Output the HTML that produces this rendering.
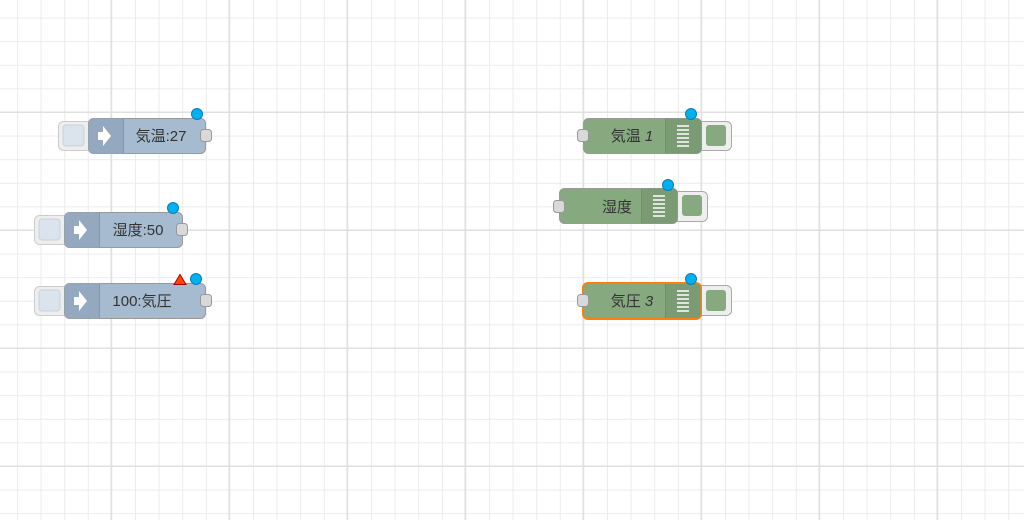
<!DOCTYPE html>
<html><head><meta charset="utf-8"><style>
body{margin:0;width:1024px;height:520px;overflow:hidden;background:#fff;font-family:"Liberation Sans","Noto Sans CJK JP",sans-serif}
svg{position:absolute;left:0;top:0}
</style></head><body>
<svg width="1024" height="520" xmlns="http://www.w3.org/2000/svg">
<defs>
<pattern id="mi" x="17" y="17.6" width="23.6" height="23.6" patternUnits="userSpaceOnUse">
<path d="M0 0.5H23.6M0.5 0V23.6" stroke="#ebebeb" stroke-width="1" fill="none"/></pattern>
<pattern id="ma" x="110.5" y="111.5" width="118" height="118" patternUnits="userSpaceOnUse">
<path d="M0 0.75H118M0.75 0V118" stroke="#e0e0e0" stroke-width="1.5" fill="none"/></pattern>
<g id="arrow"><path d="M-7 -4h5v-6l8 10-8 10v-6h-5z" fill="#fff"/></g>
<g id="lines" stroke="#fff" stroke-width="1.6"><path d="M-6 -10h12M-6 -6h12M-6 -2h12M-6 2h12M-6 6h12M-6 10h12"/></g>
</defs>
<rect width="1024" height="520" fill="url(#mi)"/>
<rect width="1024" height="520" fill="url(#ma)"/>
<g font-size="15" fill="#333" text-anchor="middle">
<rect x="58.5" y="121.5" width="38" height="29" rx="5" fill="#eee" stroke="#ccc"/>
<rect x="63" y="125" width="21" height="21" rx="3" fill="#dbe3ed" stroke="#c8d2df"/>
<rect x="88.5" y="118.5" width="117" height="35" rx="5" fill="#a6bbcf" stroke="#999"/>
<path d="M93.5 118.5h30v35h-30a5 5 0 0 1-5-5v-25a5 5 0 0 1 5-5z" fill="#94a9c0"/>
<line x1="123.5" y1="119" x2="123.5" y2="153" stroke="#8497ad"/>
<use href="#arrow" x="105" y="136"/>
<text x="161" y="141">気温:27</text>
<rect x="200.5" y="129.5" width="11" height="12" rx="3" fill="#d9d9d9" stroke="#999"/>
<circle cx="197" cy="114" r="5.5" fill="#00b0f0" stroke="#0a7fb5"/>
<rect x="34.5" y="215.5" width="38" height="29" rx="5" fill="#eee" stroke="#ccc"/>
<rect x="39" y="219" width="21" height="21" rx="3" fill="#dbe3ed" stroke="#c8d2df"/>
<rect x="64.5" y="212.5" width="118" height="35" rx="5" fill="#a6bbcf" stroke="#999"/>
<path d="M69.5 212.5h30v35h-30a5 5 0 0 1-5-5v-25a5 5 0 0 1 5-5z" fill="#94a9c0"/>
<line x1="99.5" y1="213" x2="99.5" y2="247" stroke="#8497ad"/>
<use href="#arrow" x="81" y="230"/>
<text x="138" y="235">湿度:50</text>
<rect x="176.5" y="223.5" width="11" height="12" rx="3" fill="#d9d9d9" stroke="#999"/>
<circle cx="173" cy="208" r="5.5" fill="#00b0f0" stroke="#0a7fb5"/>
<rect x="34.5" y="286.5" width="38" height="29" rx="5" fill="#eee" stroke="#ccc"/>
<rect x="39" y="290" width="21" height="21" rx="3" fill="#dbe3ed" stroke="#c8d2df"/>
<rect x="64.5" y="283.5" width="141" height="35" rx="5" fill="#a6bbcf" stroke="#999"/>
<path d="M69.5 283.5h30v35h-30a5 5 0 0 1-5-5v-25a5 5 0 0 1 5-5z" fill="#94a9c0"/>
<line x1="99.5" y1="284" x2="99.5" y2="318" stroke="#8497ad"/>
<use href="#arrow" x="81" y="301"/>
<text x="142" y="306">100:気圧</text>
<rect x="200.5" y="294.5" width="11" height="12" rx="3" fill="#d9d9d9" stroke="#999"/>
<path d="M174 284.5l6-10 6 10z" fill="#ff4500" stroke="#a00"/>
<circle cx="196" cy="279" r="5.5" fill="#00b0f0" stroke="#0a7fb5"/>
<rect x="693.5" y="121.5" width="38" height="29" rx="5" fill="#eee" stroke="#aaa"/>
<rect x="706" y="125" width="20" height="21" rx="3" fill="#87a980"/>
<rect x="583.5" y="118.5" width="118" height="35" rx="5" fill="#87a980" stroke="#999"/>
<path d="M665.5 118.5h31a5 5 0 0 1 5 5v25a5 5 0 0 1-5 5h-31z" fill="#7a9b73"/>
<line x1="665.5" y1="119" x2="665.5" y2="153" stroke="#6e8d68"/>
<use href="#lines" x="683" y="136"/>
<text x="632" y="141">気温 <tspan font-style="italic">1</tspan></text>
<rect x="577.5" y="129.5" width="11" height="12" rx="3" fill="#d9d9d9" stroke="#999"/>
<circle cx="691" cy="114" r="5.5" fill="#00b0f0" stroke="#0a7fb5"/>
<rect x="669.5" y="191.5" width="38" height="30" rx="5" fill="#eee" stroke="#aaa"/>
<rect x="682" y="195" width="20" height="21" rx="3" fill="#87a980"/>
<rect x="559.5" y="188.5" width="118" height="35" rx="5" fill="#87a980" stroke="#999"/>
<path d="M641.5 188.5h31a5 5 0 0 1 5 5v25a5 5 0 0 1-5 5h-31z" fill="#7a9b73"/>
<line x1="641.5" y1="189" x2="641.5" y2="223" stroke="#6e8d68"/>
<use href="#lines" x="659" y="206"/>
<text x="617" y="212">湿度</text>
<rect x="553.5" y="200.5" width="11" height="12" rx="3" fill="#d9d9d9" stroke="#999"/>
<circle cx="668" cy="185" r="5.5" fill="#00b0f0" stroke="#0a7fb5"/>
<rect x="693.5" y="285.5" width="38" height="30" rx="5" fill="#eee" stroke="#aaa"/>
<rect x="706" y="290" width="20" height="21" rx="3" fill="#87a980"/>
<rect x="583" y="283" width="118" height="36" rx="5" fill="#87a980" stroke="#ff7f0e" stroke-width="2"/>
<path d="M665.5 284h31a4 4 0 0 1 4 4v26a4 4 0 0 1-4 4h-31z" fill="#7a9b73"/>
<line x1="665.5" y1="284" x2="665.5" y2="318" stroke="#6e8d68"/>
<use href="#lines" x="683" y="301"/>
<text x="632" y="306">気圧 <tspan font-style="italic">3</tspan></text>
<rect x="577.5" y="294.5" width="11" height="12" rx="3" fill="#d9d9d9" stroke="#999"/>
<circle cx="691" cy="279" r="5.5" fill="#00b0f0" stroke="#0a7fb5"/>
</g>
</svg>
</body></html>
